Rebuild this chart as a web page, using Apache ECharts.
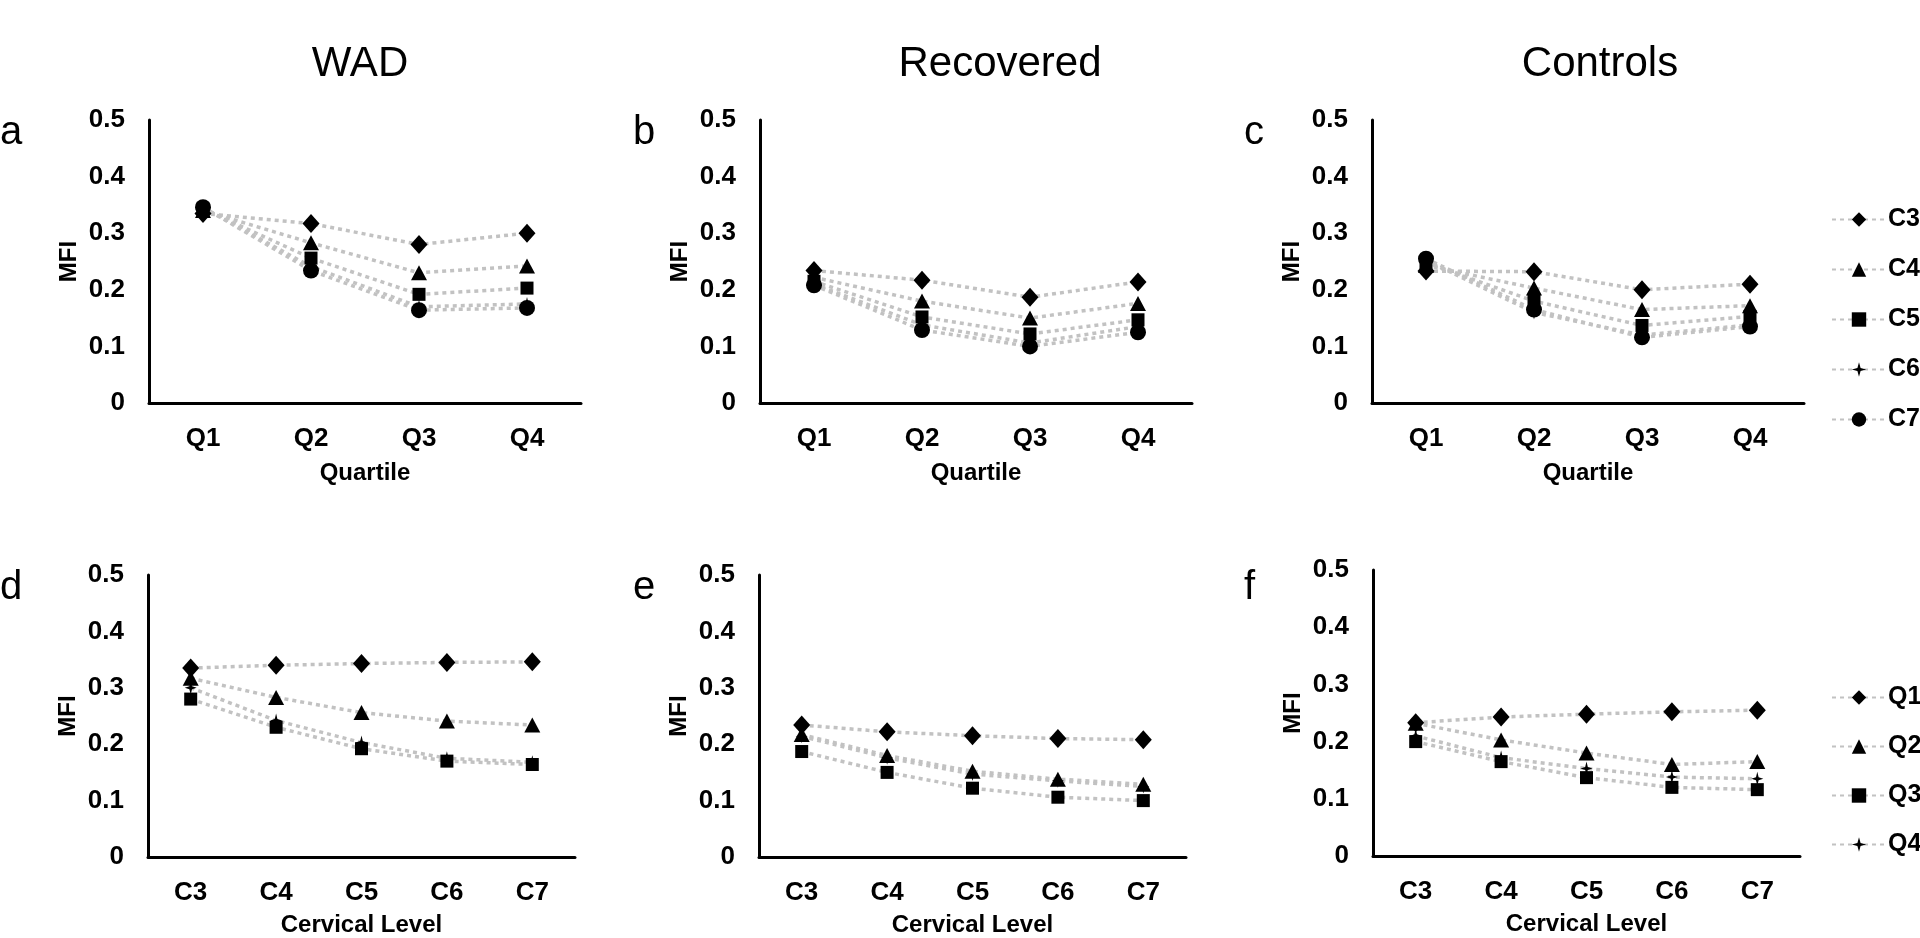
<!DOCTYPE html>
<html>
<head>
<meta charset="utf-8">
<script src="https://cdn.jsdelivr.net/npm/echarts@6/dist/echarts.min.js"></script>
<style>
html,body{margin:0;padding:0;background:#fff;}
#chart{width:1920px;height:938px;}
</style>
</head>
<body>
<div id="chart"></div>
<script>
// ---- data ----
const quartiles = ['Q1', 'Q2', 'Q3', 'Q4'];
const levels = ['C3', 'C4', 'C5', 'C6', 'C7'];
const groupTitles = ['WAD', 'Recovered', 'Controls'];
const panelLetters = ['a', 'b', 'c', 'd', 'e', 'f'];

// MFI values: each array = one quartile, across levels C3..C7
const wadQ1 = [0.335, 0.340, 0.343, 0.345, 0.346];
const wadQ2 = [0.317, 0.283, 0.256, 0.241, 0.234];
const wadQ3 = [0.280, 0.230, 0.192, 0.170, 0.164];
const wadQ4 = [0.300, 0.242, 0.203, 0.175, 0.168];

const recQ1 = [0.234, 0.222, 0.215, 0.210, 0.208];
const recQ2 = [0.217, 0.180, 0.152, 0.138, 0.129];
const recQ3 = [0.187, 0.150, 0.122, 0.106, 0.100];
const recQ4 = [0.214, 0.176, 0.147, 0.135, 0.125];

const ctlQ1 = [0.233, 0.243, 0.248, 0.252, 0.255];
const ctlQ2 = [0.232, 0.203, 0.180, 0.160, 0.165];
const ctlQ3 = [0.200, 0.165, 0.137, 0.120, 0.116];
const ctlQ4 = [0.210, 0.172, 0.153, 0.138, 0.135];

// ---- styling ----
const FONT = '"Liberation Sans", Arial, sans-serif';
const LINE_COLOR = '#c2c2c2';
const starPath = 'path://M0,-10 L2.2,-2.2 L10,0 L2.2,2.2 L0,10 L-2.2,2.2 L-10,0 L-2.2,-2.2 Z';
const symbols = [
  {symbol: 'diamond', size: [17, 19]},
  {symbol: 'triangle', size: [16, 15]},
  {symbol: 'rect', size: [13, 13]},
  {symbol: starPath, size: [12, 14]},
  {symbol: 'circle', size: [16, 16]}
];

const groups = [
  [wadQ1, wadQ2, wadQ3, wadQ4],
  [recQ1, recQ2, recQ3, recQ4],
  [ctlQ1, ctlQ2, ctlQ3, ctlQ4]
];

// grid geometry (pixels)
const topGrids = [
  {left: 149, top: 120, width: 432, height: 283},
  {left: 760, top: 120, width: 432, height: 283},
  {left: 1372, top: 120, width: 432, height: 283}
];
const botGrids = [
  {left: 148, top: 575, width: 427, height: 283},
  {left: 759, top: 575, width: 427, height: 283},
  {left: 1373, top: 570, width: 427, height: 286}
];

const grid = [], xAxis = [], yAxis = [], series = [];

function addAxes(g, cats, name, nameGap) {
  const idx = grid.length;
  grid.push(Object.assign({containLabel: false}, g));
  xAxis.push({
    type: 'category', gridIndex: idx, data: cats, boundaryGap: true,
    name: name, nameLocation: 'middle', nameGap: nameGap,
    nameTextStyle: {fontFamily: FONT, fontWeight: 'bold', fontSize: 24, color: '#000'},
    axisLine: {lineStyle: {color: '#000', width: 3}},
    axisTick: {show: false},
    axisLabel: {fontFamily: FONT, fontWeight: 'bold', fontSize: 26, color: '#000', margin: 23},
    splitLine: {show: false}
  });
  yAxis.push({
    type: 'value', gridIndex: idx, min: 0, max: 0.5, interval: 0.1,
    name: 'MFI', nameLocation: 'middle', nameGap: 68,
    nameTextStyle: {fontFamily: FONT, fontWeight: 'bold', fontSize: 24, color: '#000'},
    axisLine: {show: true, lineStyle: {color: '#000', width: 3}},
    axisTick: {show: false},
    axisLabel: {fontFamily: FONT, fontWeight: 'bold', fontSize: 26, color: '#000', margin: 24},
    splitLine: {show: false}
  });
  return idx;
}

function makeSeries(name, data, idx, sym) {
  return {
    type: 'line', name: name, data: data,
    xAxisIndex: idx, yAxisIndex: idx,
    symbol: sym.symbol, symbolSize: sym.size, symbolKeepAspect: false,
    showAllSymbol: true,
    itemStyle: {color: '#000'},
    lineStyle: {color: LINE_COLOR, width: 3.5, type: [4, 4]},
    emphasis: {disabled: true},
    animation: false
  };
}

// top row: x = quartile, one series per cervical level
groups.forEach((rows, gi) => {
  const idx = addAxes(topGrids[gi], quartiles, 'Quartile', 58);
  levels.forEach((lv, k) => {
    series.push(makeSeries(lv, rows.map(r => r[k]), idx, symbols[k]));
  });
});
// bottom row: x = cervical level, one series per quartile
groups.forEach((rows, gi) => {
  const idx = addAxes(botGrids[gi], levels, 'Cervical Level', 56);
  quartiles.forEach((q, j) => {
    series.push(makeSeries(q, rows[j], idx, symbols[j]));
  });
});

const titleX = [360, 1000, 1600];
const letterPos = [[0, 133], [633, 133], [1244, 133], [0, 588], [633, 588], [1244, 588]];
const graphic = [];
groupTitles.forEach((t, i) => graphic.push({
  type: 'text', x: titleX[i], y: 64,
  style: {text: t, fontFamily: FONT, fontSize: 42, fill: '#000', align: 'center', verticalAlign: 'middle'}
}));
panelLetters.forEach((t, i) => graphic.push({
  type: 'text', x: letterPos[i][0], y: letterPos[i][1],
  style: {text: t, fontFamily: FONT, fontSize: 40, fill: '#000', align: 'left', verticalAlign: 'middle'}
}));

const legendCommon = {
  orient: 'vertical', itemWidth: 54, itemHeight: 18,
  textStyle: {fontFamily: FONT, fontWeight: 'bold', fontSize: 25, color: '#000', padding: [0, 0, 0, -3]},
  selectedMode: false
};

const option = {
  backgroundColor: '#fff',
  animation: false,
  grid, xAxis, yAxis, series, graphic,
  legend: [
    Object.assign({}, legendCommon, {data: levels, left: 1826, top: 202, itemGap: 25}),
    Object.assign({}, legendCommon, {data: quartiles, left: 1826, top: 680, itemGap: 24})
  ]
};

const chart = echarts.init(document.getElementById('chart'), null, {renderer: 'canvas'});
chart.setOption(option);
</script>
</body>
</html>
